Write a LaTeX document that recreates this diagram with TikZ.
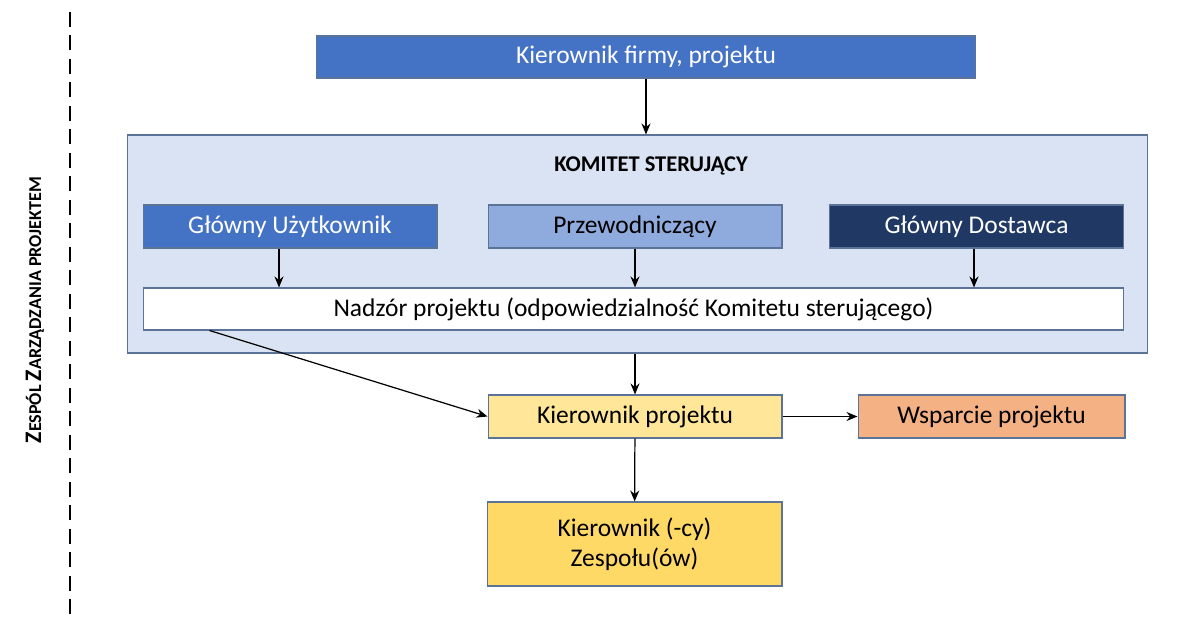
\documentclass[tikz,border=0pt]{standalone}
\usepackage{fontspec}
\setmainfont{Carlito}
\usetikzlibrary{arrows.meta, positioning}
\definecolor{cblue}{HTML}{4472C4}
\definecolor{clight}{HTML}{8FAADC}
\definecolor{cnavy}{HTML}{203864}
\definecolor{cpale}{HTML}{DAE3F3}
\definecolor{cyellow}{HTML}{FFE699}
\definecolor{cgold}{HTML}{FFD966}
\definecolor{corange}{HTML}{F4B183}
\definecolor{cborder}{HTML}{5B7396}
\tikzset{
  every picture/.style={line width=0.6pt},
  box/.style={draw=cborder, fill=#1, align=center, inner sep=2pt, minimum width=5.88cm, minimum height=0.86cm, font=\fontsize{14.5}{17}\selectfont},
  box/.default=white,
  arrow/.style={-{Stealth[length=2.2mm, width=1.8mm]}, line width=0.7pt},
}
\begin{document}
\begin{tikzpicture}[x=0.02cm, y=-0.02cm]
  \useasboundingbox (0,0) rectangle (1181,622);
  \draw[line width=1.1pt, dash pattern=on 0.3cm off 0.17cm] (70,12) -- (70,618);
  \node[rotate=90, font=\bfseries] (team) at (35,310) {{\fontsize{13.5}{16}\selectfont Z}{\fontsize{10.3}{12}\selectfont ESPÓL} {\fontsize{13.5}{16}\selectfont Z}{\fontsize{10.3}{12}\selectfont ARZĄDZANIA PROJEKTEM}};
  \node[box=cblue, text=white, minimum width=13.2cm, minimum height=0.84cm] (firma) at (646,57) {Kierownik firmy, projektu};
  \node[box=cpale, minimum width=20.42cm, minimum height=4.36cm] (komitet) at (637.5,244) {};
  \node[font=\bfseries\fontsize{12.8}{15}\selectfont] (tytul) at (651,166) {KOMITET STERUJĄCY};
  \node[box=cblue, text=white] (uzytk) at (290,226.5) {Główny Użytkownik};
  \node[box=clight] (przew) at (635,226.5) {Przewodniczący};
  \node[box=cnavy, text=white] (dostaw) at (976.5,226.5) {Główny Dostawca};
  \node[box, minimum width=19.62cm, minimum height=0.84cm] (nadzor) at (633.5,309) {Nadzór projektu (odpowiedzialność Komitetu sterującego)};
  \node[box=cyellow] (kp) at (635,416.5) {Kierownik projektu};
  \node[box=corange, minimum width=5.34cm] (wsparcie) at (991.5,416.5) {Wsparcie projektu};
  \node[box=cgold, minimum width=5.9cm, minimum height=1.68cm] (zespol) at (634.5,544) {Kierownik (-cy)\\Zespołu(ów)};
  % connectors
  \draw[arrow] (firma.south) -- (firma.south |- komitet.north);
  \draw[arrow] ([xshift=-0.22cm]uzytk.south) -- ([xshift=-0.22cm]uzytk.south |- nadzor.north);
  \draw[arrow] (przew.south) -- (przew.south |- nadzor.north);
  \draw[arrow] ([xshift=-0.05cm]dostaw.south) -- ([xshift=-0.05cm]dostaw.south |- nadzor.north);
  \draw[arrow] (kp.north |- komitet.south) -- (kp.north);
  \draw[arrow] ([xshift=1.34cm]nadzor.south west) -- (kp.west);
  \draw[arrow] (kp) -- (wsparcie);
  \draw[arrow] (kp) -- (zespol);
\end{tikzpicture}
\end{document}
